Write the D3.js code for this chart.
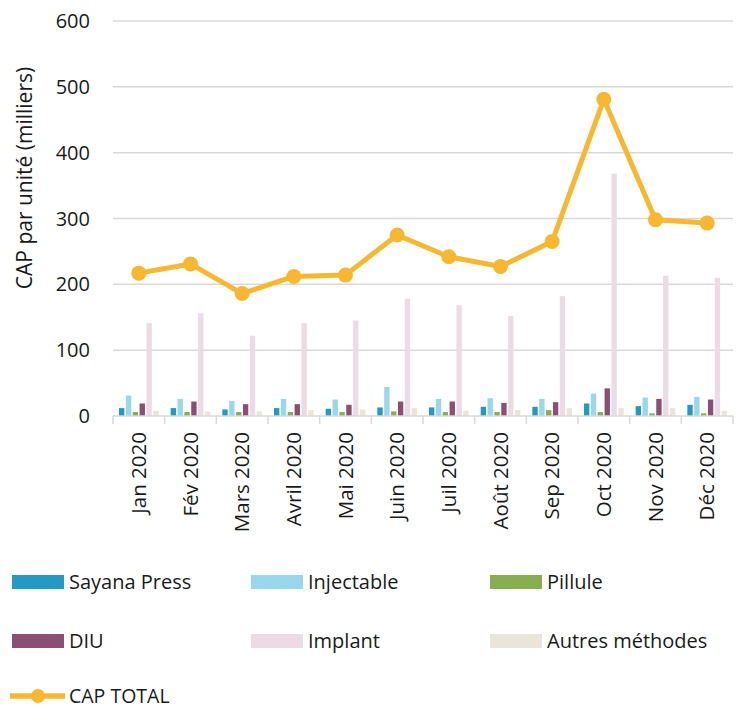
<!DOCTYPE html>
<html>
<head>
<meta charset="utf-8">
<script src="https://cdn.jsdelivr.net/npm/d3@7"></script>
<style>
  body { margin: 0; background: #fff; }
  text { font-family: "Open Sans", "Noto Sans", sans-serif; fill: #1a1a1a; }
</style>
</head>
<body>
<script>
const months = ["Jan 2020", "Fév 2020", "Mars 2020", "Avril 2020", "Mai 2020", "Juin 2020",
                "Juil 2020", "Août 2020", "Sep 2020", "Oct 2020", "Nov 2020", "Déc 2020"];
const methods = ["Sayana Press", "Injectable", "Pillule", "DIU", "Implant", "Autres méthodes"];
const sayana     = [12, 12, 10, 12, 11, 13, 13, 14, 14, 19, 15, 17];
const injectable = [31, 26, 23, 26, 25, 44, 26, 27, 26, 34, 28, 29];
const pillule    = [6, 6, 6, 6, 6, 7, 6, 6, 9, 6, 4, 4];
const diu        = [19, 22, 18, 18, 17, 22, 22, 20, 21, 42, 26, 25];
const implant    = [141, 156, 122, 141, 145, 178, 168, 152, 182, 368, 213, 210];
const autres     = [8, 7, 7, 9, 10, 12, 8, 9, 12, 12, 12, 8];
const capTotal   = [217, 231, 186, 212, 214, 275, 242, 227, 265, 481, 298, 293];
const yTicks = [0, 100, 200, 300, 400, 500, 600];

const series = [sayana, injectable, pillule, diu, implant, autres];
const colors = ["#2499c3", "#98d7ec", "#88ae52", "#8a4f72", "#eadbe5", "#e9e5db"];
const lineColor = "#f7b731";

const svgWidth = 736, svgHeight = 709;
const margin = { top: 21, right: 3, bottom: 293, left: 113 };
const width = svgWidth - margin.left - margin.right;
const height = svgHeight - margin.top - margin.bottom;

const svg = d3.create("svg")
    .attr("width", svgWidth)
    .attr("height", svgHeight);

const g = svg.append("g")
    .attr("transform", `translate(${margin.left},${margin.top})`);

const x = d3.scaleBand().domain(months).range([0, width]);
const xi = d3.scaleBand().domain(methods).range([6, x.bandwidth() - 6]).paddingInner(0.22);
const y = d3.scaleLinear().domain([0, 600]).range([height, 0]);

// gridlines
g.append("g")
    .selectAll("line")
    .data(yTicks.filter(d => d > 0))
    .join("line")
    .attr("x1", 0).attr("x2", width)
    .attr("y1", d => y(d)).attr("y2", d => y(d))
    .attr("stroke", "#d9d9d9")
    .attr("stroke-width", 1.5);

// y tick labels
g.append("g")
    .selectAll("text")
    .data(yTicks)
    .join("text")
    .attr("x", -23)
    .attr("y", d => y(d))
    .attr("dy", "0.35em")
    .attr("text-anchor", "end")
    .style("font-size", "20px")
    .text(d => d);

// bars
const groups = g.append("g")
    .selectAll("g")
    .data(months)
    .join("g")
    .attr("transform", d => `translate(${x(d)},0)`);

groups.selectAll("rect")
    .data((m, i) => methods.map((k, j) => ({ key: k, value: series[j][i], color: colors[j] })))
    .join("rect")
    .attr("x", d => xi(d.key))
    .attr("width", xi.bandwidth())
    .attr("y", d => y(d.value))
    .attr("height", d => height - y(d.value))
    .attr("fill", d => d.color);

// x axis baseline and ticks
const gx = g.append("g").attr("transform", `translate(0,${height})`);
gx.append("line")
    .attr("x1", 0).attr("x2", width)
    .attr("stroke", "#d9d9d9").attr("stroke-width", 1.5);
gx.selectAll(".tk")
    .data(d3.range(months.length + 1))
    .join("line")
    .attr("class", "tk")
    .attr("x1", i => i * x.step()).attr("x2", i => i * x.step())
    .attr("y1", 0).attr("y2", 8)
    .attr("stroke", "#d9d9d9").attr("stroke-width", 1.5);
gx.selectAll(".lbl")
    .data(months)
    .join("text")
    .attr("class", "lbl")
    .attr("transform", d => `translate(${x(d) + x.bandwidth() / 2},16) rotate(-90)`)
    .attr("dy", "0.35em")
    .attr("text-anchor", "end")
    .style("font-size", "20.5px")
    .text(d => d);

// y axis title
svg.append("text")
    .attr("transform", "translate(25,178) rotate(-90)")
    .attr("text-anchor", "middle")
    .attr("dy", "0.35em")
    .style("font-size", "21px")
    .text("CAP par unité (milliers)");

// total line
const line = d3.line()
    .x((d, i) => x(months[i]) + x.bandwidth() / 2)
    .y(d => y(d));

g.append("path")
    .datum(capTotal)
    .attr("fill", "none")
    .attr("stroke", lineColor)
    .attr("stroke-width", 5)
    .attr("stroke-linejoin", "round")
    .attr("d", line);

g.append("g")
    .selectAll("circle")
    .data(capTotal)
    .join("circle")
    .attr("cx", (d, i) => x(months[i]) + x.bandwidth() / 2)
    .attr("cy", d => y(d))
    .attr("r", 7.5)
    .attr("fill", lineColor);

// legend
const legend = svg.append("g");
const colX = [12, 251, 490], rowY = [582, 641, 696];
methods.forEach((m, j) => {
    const lx = colX[j % 3], ly = rowY[Math.floor(j / 3)];
    legend.append("rect")
        .attr("x", lx).attr("y", ly - 7)
        .attr("width", 52).attr("height", 14)
        .attr("fill", colors[j]);
    legend.append("text")
        .attr("x", lx + 57).attr("y", ly)
        .attr("dy", "0.35em")
        .style("font-size", "20px")
        .text(m);
});
legend.append("line")
    .attr("x1", 10).attr("x2", 65)
    .attr("y1", rowY[2]).attr("y2", rowY[2])
    .attr("stroke", lineColor).attr("stroke-width", 5.5);
legend.append("circle")
    .attr("cx", 38).attr("cy", rowY[2]).attr("r", 7)
    .attr("fill", lineColor);
legend.append("text")
    .attr("x", 69).attr("y", rowY[2])
    .attr("dy", "0.35em")
    .style("font-size", "19.5px")
    .text("CAP TOTAL");

document.body.append(svg.node());
</script>
</body>
</html>
